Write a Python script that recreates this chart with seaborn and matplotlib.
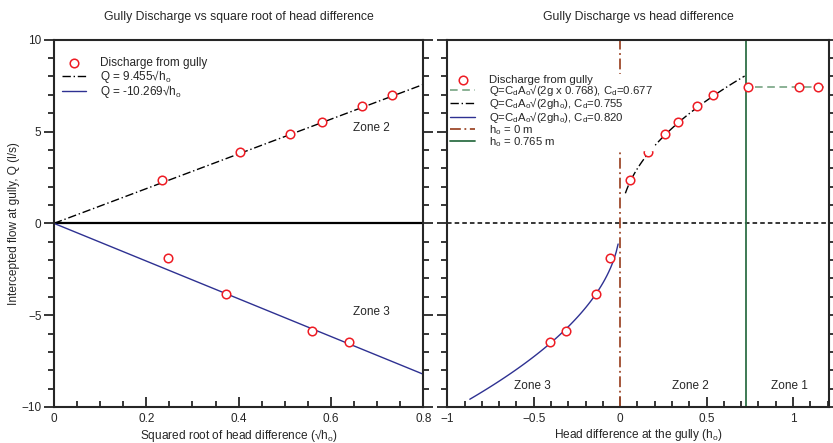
import numpy as np
import pandas as pd
import matplotlib.pyplot as plt
import seaborn as sns
from matplotlib.ticker import MultipleLocator

sns.set_style("ticks")
plt.rcParams['font.family'] = ['Liberation Sans', 'DejaVu Sans']
plt.rcParams['mathtext.fontset'] = 'custom'
plt.rcParams['mathtext.rm'] = 'Liberation Sans'

# ----------------------------------------------------------
# measured gully discharge (read from the chart)
sqrt_h_pos = [0.235, 0.403, 0.511, 0.580, 0.668, 0.732]
q_pos = [2.36, 3.87, 4.87, 5.51, 6.40, 7.00]
sqrt_h_neg = [0.246, 0.372, 0.558, 0.639]
q_neg = [-1.88, -3.82, -5.86, -6.48]

h_pos = [0.055, 0.162, 0.261, 0.336, 0.446, 0.536]
h_neg = [-0.061, -0.138, -0.311, -0.408]
h_zone1 = [0.737, 1.032, 1.147]
q_zone1 = [7.43, 7.43, 7.43]

# fitted coefficients
k_pos = 9.455
k_neg = -10.269
q_weir = 7.43
h_limit = 0.73

red = "#ee1c24"
navy = "#2e3192"
green_d = "#6b9c78"
green = "#2f7046"
brown = "#9e4a2c"

sub_o = "$_\\mathregular{o}$"
sub_d = "$_\\mathregular{d}$"

fig = plt.figure(figsize=(8.33, 4.43), dpi=100)
ax1 = fig.add_axes([0.0648, 0.0813, 0.4433, 0.829])
ax2 = fig.add_axes([0.537, 0.0813, 0.4586, 0.829])

# ---------------- left panel
x_fit = np.linspace(0, 0.8, 50)
ax1.axhline(0, color="black", lw=1.6, zorder=1)
sns.lineplot(x=x_fit, y=k_pos * x_fit, ax=ax1, color="black", lw=1.0,
             linestyle=(0, (6, 2, 1, 2)), label="Q = 9.455√h" + sub_o)
sns.lineplot(x=x_fit, y=k_neg * x_fit, ax=ax1, color=navy, lw=1.0,
             label="Q = -10.269√h" + sub_o)
df_l = pd.DataFrame({"x": sqrt_h_pos + sqrt_h_neg, "q": q_pos + q_neg})
sns.scatterplot(data=df_l, x="x", y="q", ax=ax1, marker="o", s=38,
                facecolor="white", edgecolor=red, linewidth=1.1, zorder=5,
                label="Discharge from gully")
ax1.text(0.687, 5.17, "Zone 2", fontsize=8.5, ha="center", va="center")
ax1.text(0.687, -4.84, "Zone 3", fontsize=8.5, ha="center", va="center")
ax1.set_xlim(0, 0.8)
ax1.xaxis.set_minor_locator(MultipleLocator(0.05))
ax1.set_xticks([0, 0.2, 0.4, 0.6, 0.8])
ax1.set_xticklabels(["0", "0.2", "0.4", "0.6", "0.8"])
ax1.set_xlabel("Squared root of head difference (√h" + sub_o + ")",
               fontsize=8.6, labelpad=2)
ax1.set_ylabel("Intercepted flow at gully, Q (l/s)", fontsize=8.6, labelpad=1)
ax1.set_title("Gully Discharge vs square root of head difference",
              fontsize=8.8, pad=14)
h, l = ax1.get_legend_handles_labels()
order = [2, 0, 1]
ax1.legend([h[i] for i in order], [l[i] for i in order], loc="upper left",
           bbox_to_anchor=(0.0, 0.975), frameon=False, fontsize=8.5,
           handlelength=2.0, labelspacing=-0.12, handletextpad=1.2,
           borderaxespad=0.3)

# ---------------- right panel
h_p = np.linspace(0.03, 0.72, 80)
h_n = np.linspace(-0.87, -0.012, 80)
ax2.axhline(0, color="black", lw=1.1, linestyle=(0, (3, 2)), zorder=1)
sns.lineplot(x=[0.78, 1.21], y=[q_weir, q_weir], ax=ax2, color=green_d,
             lw=1.1, linestyle=(0, (5, 3)),
             label="Q=C" + sub_d + "A" + sub_o + "√(2g x 0.768), C" + sub_d + "=0.677")
sns.lineplot(x=h_p, y=k_pos * np.sqrt(h_p), ax=ax2, color="black", lw=1.0,
             linestyle=(0, (6, 2, 1, 2)),
             label="Q=C" + sub_d + "A" + sub_o + "√(2gh" + sub_o + "), C" + sub_d + "=0.755")
sns.lineplot(x=h_n, y=k_neg * np.sqrt(-h_n), ax=ax2, color=navy, lw=1.0,
             label="Q=C" + sub_d + "A" + sub_o + "√(2gh" + sub_o + "), C" + sub_d + "=0.820")
ax2.axvline(0, color=brown, lw=1.3, linestyle=(0, (6, 2, 1, 2)),
            label="h" + sub_o + " = 0 m", zorder=1)
ax2.axvline(h_limit, color=green, lw=1.3, label="h" + sub_o + " = 0.765 m",
            zorder=1)
df_r = pd.DataFrame({"h": h_pos + h_neg + h_zone1, "q": q_pos + q_neg + q_zone1})
sns.scatterplot(data=df_r, x="h", y="q", ax=ax2, marker="o", s=38,
                facecolor="white", edgecolor=red, linewidth=1.1, zorder=5,
                label="Discharge from gully")
ax2.text(-0.51, -8.87, "Zone 3", fontsize=8.5, ha="center", va="center")
ax2.text(0.405, -8.87, "Zone 2", fontsize=8.5, ha="center", va="center")
ax2.text(0.98, -8.87, "Zone 1", fontsize=8.5, ha="center", va="center")
ax2.set_xlim(-1, 1.21)
ax2.xaxis.set_minor_locator(MultipleLocator(0.1))
ax2.set_xticks([-1, -0.5, 0, 0.5, 1])
ax2.set_xticklabels(["−1", "−0.5", "0", "0.5", "1"])
ax2.set_xlabel("Head difference at the gully (h" + sub_o + ")",
               fontsize=8.6, labelpad=2)
ax2.set_ylabel("")
ax2.set_title("Gully Discharge vs head difference", fontsize=8.8, pad=14)
h, l = ax2.get_legend_handles_labels()
order = [5, 0, 1, 2, 3, 4]
leg = ax2.legend([h[i] for i in order], [l[i] for i in order], loc="upper left",
                 bbox_to_anchor=(0.0, 0.913), frameon=True, fontsize=8.2,
                 handlelength=2.2, labelspacing=-0.14, handletextpad=1.2,
                 borderaxespad=0.2, borderpad=0.05, fancybox=False)
leg.get_frame().set_facecolor("white")
leg.get_frame().set_edgecolor("white")
leg.get_frame().set_alpha(1)

for ax in (ax1, ax2):
    ax.set_ylim(-10, 10)
    ax.yaxis.set_major_locator(MultipleLocator(5))
    ax.yaxis.set_minor_locator(MultipleLocator(1))
    for s in ax.spines.values():
        s.set_linewidth(1.5)
        s.set_visible(True)
    ax.tick_params(axis="y", which="both", direction="out", left=True,
                   right=True, width=1.3, labelsize=8.5, pad=2)
    ax.tick_params(axis="y", which="major", length=7)
    ax.tick_params(axis="y", which="minor", length=4)
    ax.tick_params(axis="x", which="both", direction="in", bottom=True,
                   top=False, width=1.3, labelsize=8.5, pad=4)
    ax.tick_params(axis="x", which="major", length=7)
    ax.tick_params(axis="x", which="minor", length=4)
ax1.set_yticks([-10, -5, 0, 5, 10])
ax1.set_yticklabels(["−10", "−5", "0", "5", "10"])
ax2.tick_params(axis="y", labelleft=False)

fig.savefig("out.png", dpi=100)
